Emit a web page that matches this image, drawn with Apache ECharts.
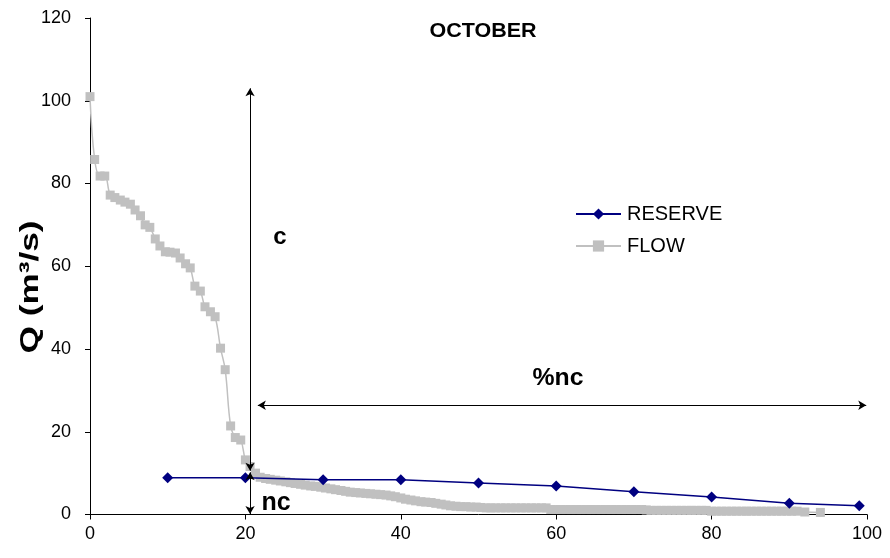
<!DOCTYPE html>
<html>
<head>
<meta charset="utf-8">
<script src="https://cdn.jsdelivr.net/npm/echarts@6/dist/echarts.min.js"></script>
<style>
html,body{margin:0;padding:0;background:#fff;}
#container{width:890px;height:558px;}
</style>
</head>
<body>
<div id="container"></div>
<script>
// reserve curve (percent of time, Q)
var reservePct = [10, 20, 30, 40, 50, 60, 70, 80, 90, 99];
var reserveQ = [8.9, 8.9, 8.4, 8.4, 7.6, 6.9, 5.5, 4.2, 2.7, 2.1];

// flow duration curve
var flowPct = [0, 0.6, 1.3, 1.9, 2.6, 3.2, 3.9, 4.5, 5.2, 5.8,
	6.5, 7.1, 7.7, 8.4, 9.0, 9.7, 10.3, 11.0, 11.6, 12.3,
	12.9, 13.5, 14.2, 14.8, 15.5, 16.1, 16.8, 17.4, 18.1, 18.7,
	19.4, 20.0, 20.6, 21.3, 21.9, 22.6, 23.2, 23.9, 24.5, 25.2,
	25.8, 26.4, 27.1, 27.7, 28.4, 29.0, 29.7, 30.3, 31.0, 31.6,
	32.3, 32.9, 33.5, 34.2, 34.8, 35.5, 36.1, 36.8, 37.4, 38.1,
	38.7, 39.3, 40.0, 40.6, 41.3, 41.9, 42.6, 43.2, 43.9, 44.5,
	45.2, 45.8, 46.4, 47.1, 47.7, 48.4, 49.0, 49.7, 50.3, 51.0,
	51.6, 52.2, 52.9, 53.5, 54.2, 54.8, 55.5, 56.1, 56.8, 57.4,
	58.1, 58.7, 59.3, 60.0, 60.6, 61.3, 61.9, 62.6, 63.2, 63.9,
	64.5, 65.1, 65.8, 66.4, 67.1, 67.7, 68.4, 69.0, 69.7, 70.3,
	71.0, 71.6, 72.2, 72.9, 73.5, 74.2, 74.8, 75.5, 76.1, 76.8,
	77.4, 78.0, 78.7, 79.3, 80.0, 80.6, 81.3, 81.9, 82.6, 83.2,
	83.9, 84.5, 85.1, 85.8, 86.4, 87.1, 87.7, 88.4, 89.0, 89.7,
	90.3, 91.0, 92.0, 94.0];
var flowQ = [101, 85.8, 81.8, 81.8, 77.2, 76.6, 76.0, 75.5, 75.0, 73.6,
	72.2, 70.0, 69.4, 66.6, 64.9, 63.5, 63.4, 63.2, 62.0, 60.6,
	59.6, 55.2, 54.0, 50.2, 49.0, 47.8, 40.2, 35.0, 21.4, 18.6,
	18.0, 13.2, 11.6, 10.0, 9.0, 8.7, 8.5, 8.3, 8.1, 7.9,
	7.7, 7.5, 7.3, 7.1, 6.9, 6.8, 6.6, 6.4, 6.2, 6.0,
	5.8, 5.6, 5.4, 5.3, 5.2, 5.1, 5.0, 4.9, 4.8, 4.7,
	4.5, 4.3, 4.0, 3.7, 3.5, 3.3, 3.1, 3.0, 2.9, 2.7,
	2.5, 2.3, 2.1, 2.0, 1.9, 1.9, 1.8, 1.8, 1.7, 1.6,
	1.6, 1.6, 1.6, 1.6, 1.6, 1.6, 1.6, 1.6, 1.6, 1.6,
	1.6, 1.6, 1.2, 1.2, 1.2, 1.2, 1.2, 1.2, 1.2, 1.2,
	1.2, 1.2, 1.2, 1.2, 1.2, 1.2, 1.2, 1.2, 1.2, 1.2,
	1.2, 1.1, 1.0, 1.0, 1.0, 1.0, 1.0, 1.0, 1.0, 1.0,
	1.0, 1.0, 1.0, 1.0, 0.8, 0.8, 0.8, 0.8, 0.8, 0.8,
	0.8, 0.8, 0.8, 0.8, 0.8, 0.8, 0.8, 0.8, 0.8, 0.8,
	0.8, 0.8, 0.6, 0.5];

// annotation arrows, in data units [x1, y1, x2, y2]
var arrowC = [20.6, 103, 20.6, 10.6];
var arrowNc = [20.6, 10.2, 20.6, 0.1];
var arrowPctNc = [21.6, 26.4, 99.9, 26.4];

var FONT = 'Arial, "Liberation Sans", sans-serif';

function pairs(xs, ys) {
	var out = [];
	for (var i = 0; i < xs.length; i++) {
		out.push([xs[i], ys[i]]);
	}
	return out;
}
function arrow(a) {
	return [{ coord: [a[0], a[1]] }, { coord: [a[2], a[3]] }];
}
// stretch a text so it covers the given length, like the original picture
var ctx = document.createElement('canvas').getContext('2d');
function stretch(text, font, target) {
	ctx.font = font;
	return target / ctx.measureText(text).width;
}
function label(text, size, x, y, target, rot) {
	var font = 'bold ' + size + 'px ' + FONT;
	return {
		type: 'text', x: x, y: y, rotation: rot || 0,
		scaleX: target ? stretch(text, font, target) : 1,
		style: { text: text, font: font, fill: '#000', textAlign: 'center', textVerticalAlign: 'middle' }
	};
}

var dom = document.getElementById("container");
var myChart = echarts.init(dom);
var option = {
	animation: false,
	backgroundColor: '#fff',
	textStyle: { fontFamily: FONT },
	grid: { left: 90, right: 23, top: 18, bottom: 43.5 },
	legend: {
		orient: 'vertical',
		left: 575,
		top: 204,
		padding: 0,
		itemWidth: 45,
		itemHeight: 14,
		itemGap: 12,
		data: ['RESERVE', 'FLOW'],
		textStyle: { fontSize: 20, color: '#000', fontFamily: FONT, padding: [0, 0, 0, 1] }
	},
	xAxis: {
		type: 'value',
		min: 0,
		max: 100,
		interval: 20,
		axisLine: { lineStyle: { color: '#000', width: 1 } },
		axisTick: { show: true, length: 5, lineStyle: { color: '#000' } },
		axisLabel: { fontSize: 18, color: '#000', margin: 11, fontFamily: FONT },
		splitLine: { show: false }
	},
	yAxis: {
		type: 'value',
		min: 0,
		max: 120,
		interval: 20,
		axisLine: { show: true, lineStyle: { color: '#000', width: 1 } },
		axisTick: { show: true, length: 5, lineStyle: { color: '#000' } },
		axisLabel: { fontSize: 18, color: '#000', margin: 19, fontFamily: FONT },
		splitLine: { show: false }
	},
	graphic: [
		label('OCTOBER', 20, 483, 31, 107),
		label('Q (m³/s)', 26, 31, 287, 133, Math.PI / 2),
		label('c', 24, 280, 237),
		label('nc', 25, 276, 503),
		label('%nc', 24, 558, 378, 51)
	],
	series: [
		{
			name: 'FLOW',
			type: 'line',
			data: pairs(flowPct, flowQ),
			smooth: 0.4,
			symbol: 'rect',
			symbolSize: 9,
			itemStyle: { color: '#c0c0c0' },
			lineStyle: { color: '#c0c0c0', width: 1.5 },
			z: 2,
			markLine: {
				silent: true,
				symbol: ['arrow', 'arrow'],
				symbolSize: [7, 8],
				label: { show: false },
				lineStyle: { color: '#000', width: 1, type: 'solid' },
				data: [arrow(arrowC), arrow(arrowNc), arrow(arrowPctNc)]
			}
		},
		{
			name: 'RESERVE',
			type: 'line',
			data: pairs(reservePct, reserveQ),
			symbol: 'diamond',
			symbolSize: 11,
			itemStyle: { color: '#000080' },
			lineStyle: { color: '#000080', width: 1.5 },
			z: 3
		}
	]
};
if (option && typeof option === "object") {
	myChart.setOption(option, true);
}
</script>
</body>
</html>
